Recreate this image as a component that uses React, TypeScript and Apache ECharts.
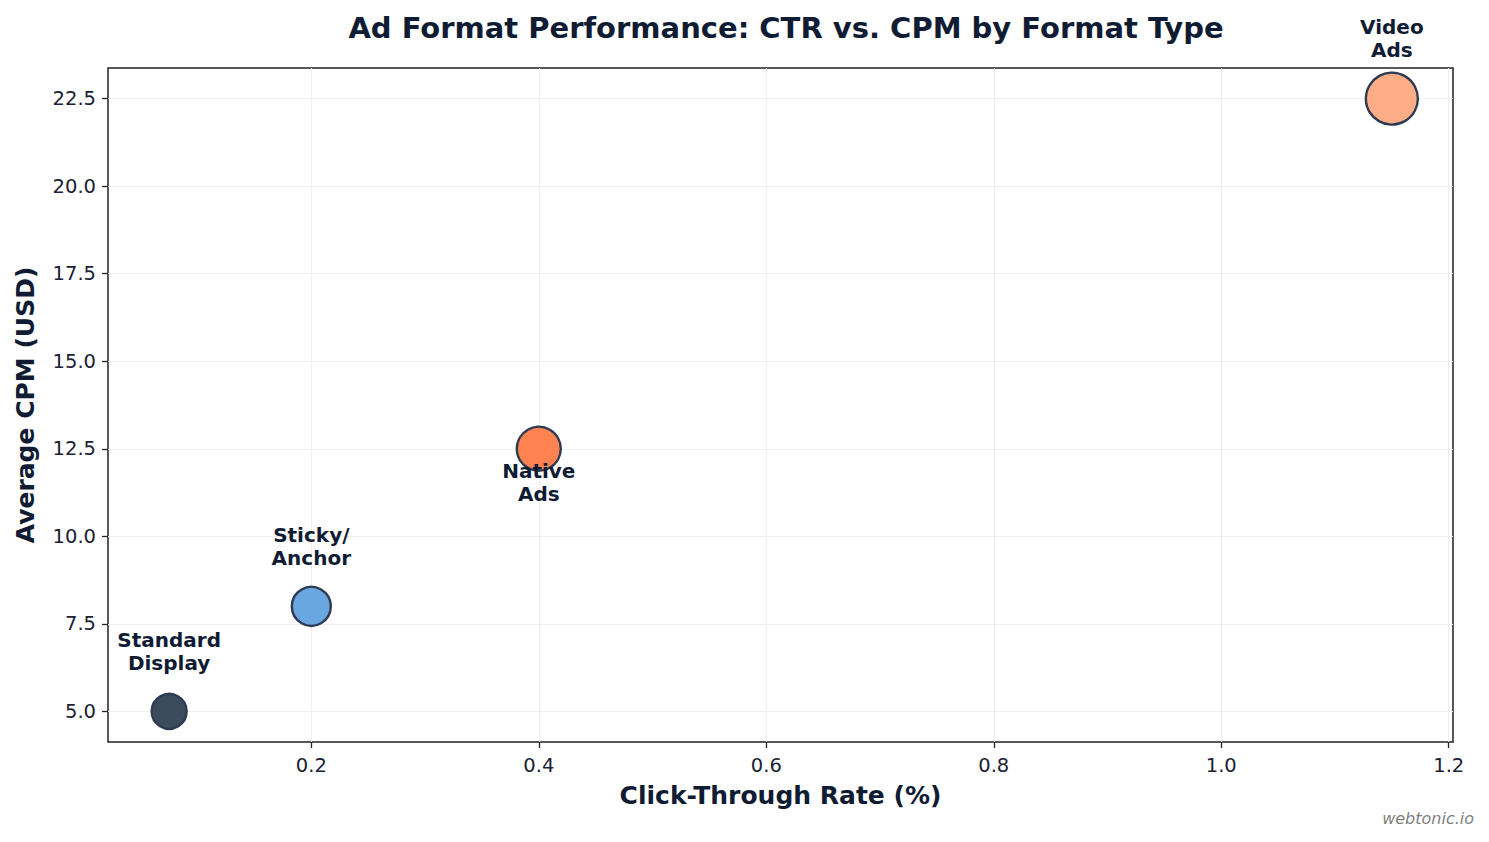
import React, { useEffect, useRef } from "react";
import * as echarts from "echarts";

const formats = ["Standard\nDisplay", "Sticky/\nAnchor", "Native\nAds", "Video\nAds"];
const ctr = [0.075, 0.2, 0.4, 1.15];
const cpm = [5.0, 8.0, 12.5, 22.5];
const bubbleSize = [35, 39, 44, 52];
const fillColors = ["#3c4a5e", "#6aa6e0", "#ff8350", "#ffad86"];
const labelBelow = [false, false, true, false];
const xTicks = [0.2, 0.4, 0.6, 0.8, 1.0, 1.2];
const yTicks = [5.0, 7.5, 10.0, 12.5, 15.0, 17.5, 20.0, 22.5];

const DARK = "#0f1c33";

export default function App() {
  const ref = useRef<HTMLDivElement>(null);
  useEffect(() => {
    if (!ref.current) return;
    const chart = echarts.init(ref.current, null, { renderer: "svg" });
    const xr = Math.max(...ctr) - Math.min(...ctr);
    const yr = Math.max(...cpm) - Math.min(...cpm);
    const xmin = Math.min(...ctr) - 0.05 * xr;
    const xmax = Math.max(...ctr) + 0.05 * xr;
    const ymin = Math.min(...cpm) - 0.05 * yr;
    const ymax = Math.max(...cpm) + 0.05 * yr;
    const font = "DejaVu Sans";
    chart.setOption({
      animation: false,
      backgroundColor: "#ffffff",
      textStyle: { fontFamily: font },
      title: {
        text: "Ad Format Performance: CTR vs. CPM by Format Type",
        left: 781,
        textAlign: "center",
        top: 8,
        textStyle: { fontFamily: font, fontSize: 29, fontWeight: "bold", color: DARK },
      },
      graphic: [
        {
          type: "text",
          right: 15,
          bottom: 16,
          style: {
            text: "webtonic.io",
            fontFamily: "DejaVu Sans",
            fontStyle: "italic",
            fontSize: 16,
            fill: "#808080",
          },
        },
      ],
      grid: {
        left: 108,
        right: 36,
        top: 68,
        bottom: 100,
        show: true,
        borderColor: "#222222",
        borderWidth: 1.5,
      },
      xAxis: {
        type: "value",
        min: xmin,
        max: xmax,
        name: "Click-Through Rate (%)",
        nameLocation: "middle",
        nameGap: 41,
        nameTextStyle: { fontFamily: font, fontSize: 25, fontWeight: "bold", color: DARK },
        axisLine: { show: false },
        axisTick: { show: true, length: 6, lineStyle: { color: "#222", width: 1.3 }, customValues: xTicks },
        axisLabel: {
          customValues: xTicks,
          fontFamily: font,
          fontSize: 19.5,
          color: "#1a2233",
          margin: 13,
          formatter: (v: number) => v.toFixed(1),
        },
        splitLine: { show: true, lineStyle: { color: "#efefef", width: 1 } },
      },
      yAxis: {
        type: "value",
        min: ymin,
        max: ymax,
        name: "Average CPM (USD)",
        nameLocation: "middle",
        nameGap: 70,
        nameTextStyle: { fontFamily: font, fontSize: 25, fontWeight: "bold", color: DARK },
        axisLine: { show: false },
        axisTick: { show: true, length: 6, lineStyle: { color: "#222", width: 1.3 }, customValues: yTicks },
        axisLabel: {
          customValues: yTicks,
          fontFamily: font,
          fontSize: 19.5,
          color: "#1a2233",
          margin: 12,
          formatter: (v: number) => v.toFixed(1),
        },
        splitLine: { show: true, lineStyle: { color: "#efefef", width: 1 } },
      },
      series: [
        {
          type: "scatter",
          data: ctr.map((x, i) => ({
            value: [x, cpm[i]],
            symbolSize: bubbleSize[i],
            itemStyle: { color: fillColors[i], borderColor: "#2e3b52", borderWidth: 2.4, opacity: 1 },
            label: {
              show: true,
              position: "inside",
              offset: [0, labelBelow[i] ? 34 : -60],
              formatter: formats[i],
              fontFamily: font,
              fontSize: 20,
              fontWeight: "bold",
              color: DARK,
              textBorderWidth: 0,
              textBorderColor: "transparent",
              lineHeight: 23,
              align: "center",
              verticalAlign: "middle",
            },
          })),
          z: 3,
        },
      ],
    });
    return () => chart.dispose();
  }, []);
  return <div ref={ref} style={{ width: 1489, height: 842, position: "absolute", left: 0, top: 0 }} />;
}
